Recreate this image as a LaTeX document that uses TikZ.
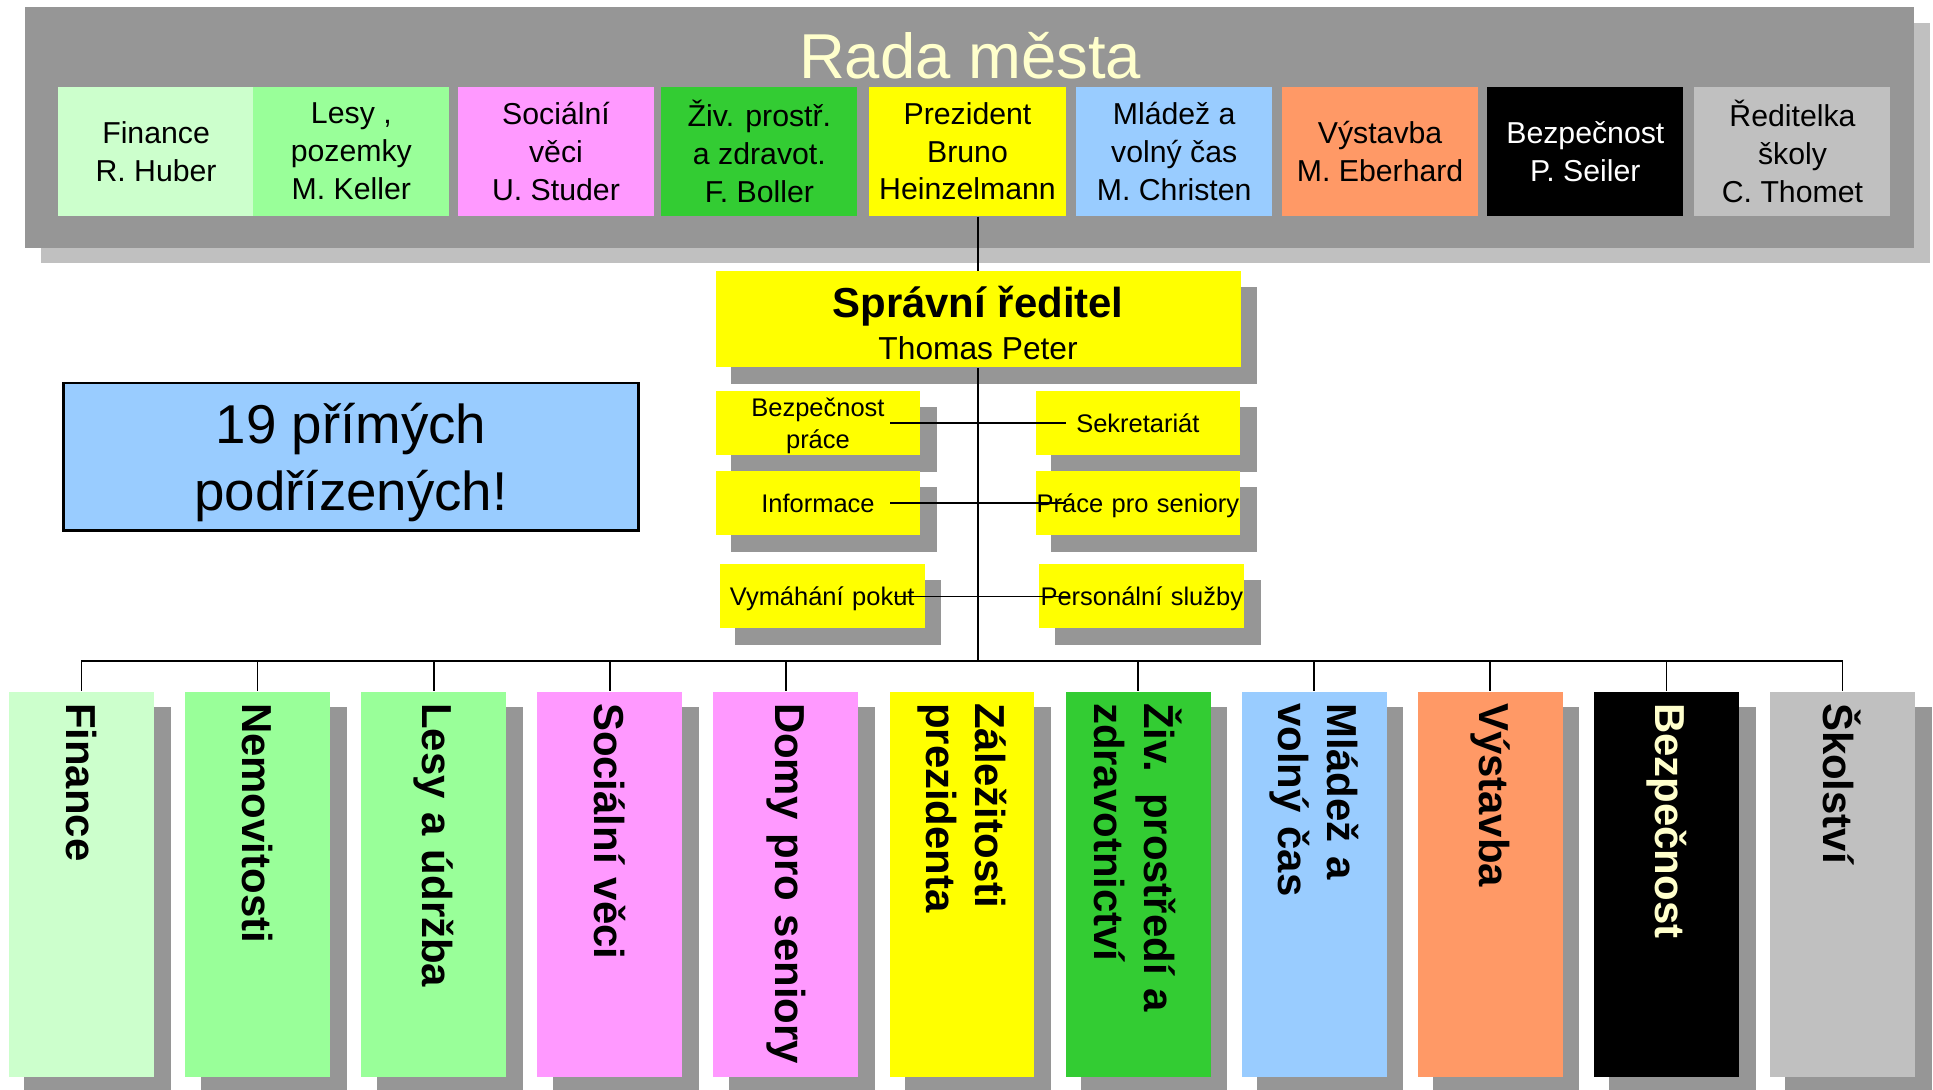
\documentclass[tikz,border=0pt]{standalone}
\usepackage{tikz}
\usepackage{fontspec}
\setmainfont{Liberation Sans}
\usetikzlibrary{backgrounds}
\tikzset{every picture/.style={line width=0.75pt}}

\definecolor{panelgray}{HTML}{969696}
\definecolor{panelshade}{HTML}{C0C0C0}
\definecolor{shadowgray}{HTML}{969696}
\definecolor{paleyellow}{HTML}{FFFFCC}
\definecolor{fingreen}{HTML}{CCFFCC}
\definecolor{forestgreen}{HTML}{99FF99}
\definecolor{socpink}{HTML}{FF99FF}
\definecolor{envgreen}{HTML}{33CC33}
\definecolor{presyellow}{HTML}{FFFF00}
\definecolor{youthblue}{HTML}{99CCFF}
\definecolor{buildorange}{HTML}{FF9966}
\definecolor{schoolgray}{HTML}{C0C0C0}

\tikzset{
  council/.style={inner sep=0pt, minimum width=119.25pt, minimum height=78.75pt, align=center, font=\fontsize{18.4}{22.9}\selectfont},
  director/.style={fill=presyellow, inner sep=0pt, minimum width=319.35pt, minimum height=58.5pt, align=center, font=\fontsize{19.3}{25.7}\selectfont},
  staff/.style={fill=presyellow, inner sep=0pt, text width=124.5pt, minimum height=39pt, text depth=0pt, align=center, font=\fontsize{15.5}{19.3}\selectfont},
  dept/.style={rotate=-90, inner xsep=7pt, inner ysep=0pt, text width=220.3pt, minimum height=88.2pt, align=left, font=\fontsize{25.5}{30}\selectfont\bfseries},
  boxshadow/.style={fill=shadowgray},
  link/.style={line width=1.1pt}
}

\begin{document}
\begin{tikzpicture}[x=0.75pt,y=0.75pt,yscale=-1,xscale=1]
\useasboundingbox (0,0) rectangle (1568,884);

%Shape: Rectangle [panel shadow]
\fill [panelshade] (33.3,18.4) rectangle (1565.5,213.6);
%Shape: Rectangle [panel]
\fill [panelgray] (20.3,5.4) rectangle (1552.6,201);

% Text Node
\draw (787,64) node [anchor=base, inner sep=0pt, text=paleyellow, font=\fontsize{38.6}{44}\selectfont] (title) {Rada města};

% Council members
\draw (126.6,122.8) node [council, fill=fingreen] (cfin) {Finance\\R. Huber};
\draw (285,122.8) node [council, fill=forestgreen] (cles) {Lesy ,\\pozemky\\M. Keller};
\draw (451,122.8) node [council, fill=socpink] (csoc) {Sociální\\věci\\U. Studer};
\draw (616,122.8) node [council, fill=envgreen] (cenv) {Živ. prostř.\\a zdravot.\\F. Boller};
\draw (784.8,122.8) node [council, fill=presyellow] (cpres) {Prezident\\Bruno\\Heinzelmann};
\draw (952.5,122.8) node [council, fill=youthblue] (cyouth) {Mládež a\\volný čas\\M. Christen};
\draw (1119.5,122.8) node [council, fill=buildorange] (cbuild) {Výstavba\\M. Eberhard};
\draw (1286,122.8) node [council, fill=black, text=white] (csec) {Bezpečnost\\P. Seiler};
\draw (1454,122.8) node [council, fill=schoolgray] (cschool) {Ředitelka\\školy\\C. Thomet};

% Director
\draw (793.4,259) node [director] (red) {\rule{0pt}{24pt}{\fontsize{25.5}{27}\selectfont\bfseries Správní ředitel}\\Thomas Peter};

% Staff units
\draw (663.5,343.3) node [staff, text depth=19.3pt] (bp) {Bezpečnost\\práce};
\draw (663.5,408.3) node [staff] (info) {Informace};
\draw (667,483.8) node [staff] (vym) {Vymáhání pokut};
\draw (923,343.3) node [staff] (sek) {Sekretariát};
\draw (923,408.3) node [staff] (sen) {Práce pro seniory};
\draw (926.2,483.8) node [staff] (pers) {Personální služby};

% Text Node
\draw (284.7,370.5) node [draw, line width=1.5pt, fill=youthblue, minimum width=350pt, minimum height=90pt, inner sep=0pt, text depth=-1.2pt, align=center, font=\fontsize{33.3}{40.5}\selectfont] (note) {19 přímých\\podřízených!};

% Departments
\draw (66.1,717.2) node [dept, fill=fingreen] (dfin) {Finance};
\draw (208.95,717.2) node [dept, fill=forestgreen] (dnem) {Nemovitosti};
\draw (351.8,717.2) node [dept, fill=forestgreen] (dles) {Lesy a údržba};
\draw (494.65,717.2) node [dept, fill=socpink] (dsoc) {Sociální věci};
\draw (637.5,717.2) node [dept, fill=socpink] (dsen) {Domy pro seniory};
\draw (780.35,717.2) node [dept, fill=presyellow] (dpres) {Záležitosti\\prezidenta};
\draw (923.2,717.2) node [dept, fill=envgreen] (denv) {Živ. prostředí a\\zdravotnictví};
\draw (1066.05,717.2) node [dept, fill=youthblue] (dyouth) {Mládež a\\volný čas};
\draw (1208.9,717.2) node [dept, fill=buildorange] (dbuild) {Výstavba};
\draw (1351.75,717.2) node [dept, fill=black, text=paleyellow] (dsec) {Bezpečnost};
\draw (1494.6,717.2) node [dept, fill=schoolgray] (dschool) {Školství};

% Shadows
\begin{scope}[on background layer]
\fill [boxshadow] ([shift={(13,13)}]red.north west) rectangle ([shift={(13,13)}]red.south east);
\fill [boxshadow] ([shift={(13,13)}]bp.north west) rectangle ([shift={(13,13)}]bp.south east);
\fill [boxshadow] ([shift={(13,13)}]info.north west) rectangle ([shift={(13,13)}]info.south east);
\fill [boxshadow] ([shift={(13,13)}]vym.north west) rectangle ([shift={(13,13)}]vym.south east);
\fill [boxshadow] ([shift={(13,13)}]sek.north west) rectangle ([shift={(13,13)}]sek.south east);
\fill [boxshadow] ([shift={(13,13)}]sen.north west) rectangle ([shift={(13,13)}]sen.south east);
\fill [boxshadow] ([shift={(13,13)}]pers.north west) rectangle ([shift={(13,13)}]pers.south east);
\fill [boxshadow] ([shift={(13,13)}]dfin.north west) rectangle ([shift={(13,13)}]dfin.south east);
\fill [boxshadow] ([shift={(13,13)}]dnem.north west) rectangle ([shift={(13,13)}]dnem.south east);
\fill [boxshadow] ([shift={(13,13)}]dles.north west) rectangle ([shift={(13,13)}]dles.south east);
\fill [boxshadow] ([shift={(13,13)}]dsoc.north west) rectangle ([shift={(13,13)}]dsoc.south east);
\fill [boxshadow] ([shift={(13,13)}]dsen.north west) rectangle ([shift={(13,13)}]dsen.south east);
\fill [boxshadow] ([shift={(13,13)}]dpres.north west) rectangle ([shift={(13,13)}]dpres.south east);
\fill [boxshadow] ([shift={(13,13)}]denv.north west) rectangle ([shift={(13,13)}]denv.south east);
\fill [boxshadow] ([shift={(13,13)}]dyouth.north west) rectangle ([shift={(13,13)}]dyouth.south east);
\fill [boxshadow] ([shift={(13,13)}]dbuild.north west) rectangle ([shift={(13,13)}]dbuild.south east);
\fill [boxshadow] ([shift={(13,13)}]dsec.north west) rectangle ([shift={(13,13)}]dsec.south east);
\fill [boxshadow] ([shift={(13,13)}]dschool.north west) rectangle ([shift={(13,13)}]dschool.south east);
\end{scope}

%Straight Lines
\coordinate (bus) at (0,536);
\draw [link] (cpres.south -| red.north) -- (red.north);
\draw [link] (red.south) -- (red.south |- bus);
\draw [link] ([xshift=-18.75pt]bp.east) -- ([xshift=18.75pt]sek.west);
\draw [link] ([xshift=-18.75pt]info.east) -- ([xshift=18.75pt]sen.west);
\draw [link] ([xshift=-18.75pt]vym.east) -- ([xshift=18.75pt]pers.west);
%Straight Lines [bus]
\draw [link] (dfin.west) -- (dfin.west |- bus) -- (dschool.west |- bus) -- (dschool.west);
\draw [link] (dnem.west |- bus) -- (dnem.west);
\draw [link] (dles.west |- bus) -- (dles.west);
\draw [link] (dsoc.west |- bus) -- (dsoc.west);
\draw [link] (dsen.west |- bus) -- (dsen.west);
\draw [link] (denv.west |- bus) -- (denv.west);
\draw [link] (dyouth.west |- bus) -- (dyouth.west);
\draw [link] (dbuild.west |- bus) -- (dbuild.west);
\draw [link] (dsec.west |- bus) -- (dsec.west);

\end{tikzpicture}
\end{document}
